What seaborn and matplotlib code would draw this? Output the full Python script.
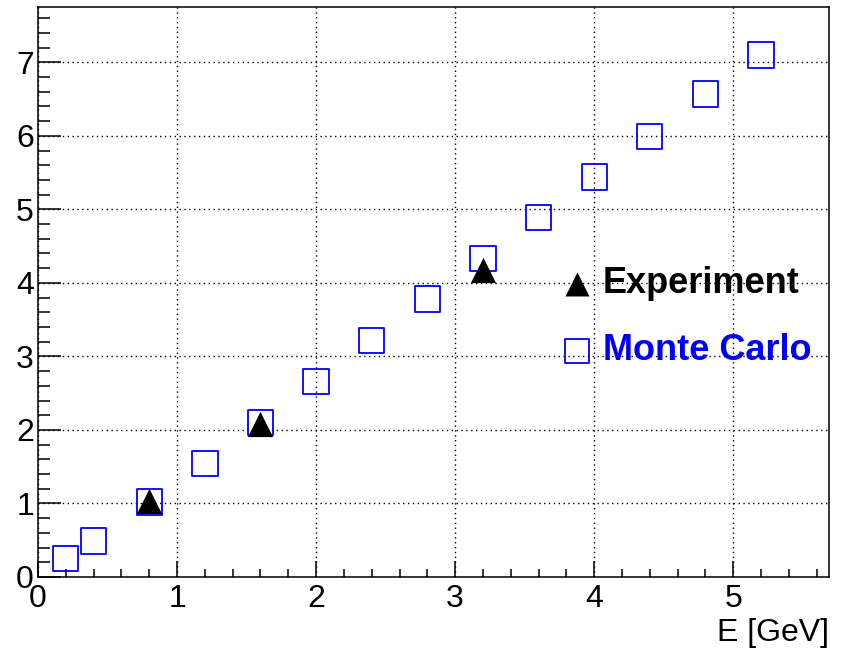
import matplotlib

matplotlib.use("Agg")
import matplotlib.pyplot as plt
import pandas as pd
import seaborn as sns
from matplotlib.ticker import MultipleLocator

# Monte Carlo points
mc_energy = [0.2, 0.4, 0.8, 1.2, 1.6, 2.0, 2.4, 2.8, 3.2, 3.6, 4.0, 4.4, 4.8, 5.2]
mc_value = [0.25, 0.49, 1.02, 1.54, 2.10, 2.66, 3.22, 3.78, 4.33, 4.89, 5.44, 5.99, 6.57, 7.10]

# Experiment points
exp_energy = [0.8, 1.6, 3.2]
exp_value = [1.04, 2.08, 4.18]

mc_df = pd.DataFrame({"E": mc_energy, "y": mc_value})
exp_df = pd.DataFrame({"E": exp_energy, "y": exp_value})

sns.set_style("white")
plt.rcParams["font.family"] = ["Liberation Sans", "DejaVu Sans"]
plt.rcParams["text.color"] = "black"
plt.rcParams["axes.labelcolor"] = "black"

fig = plt.figure(figsize=(8.46, 6.51), dpi=100)
ax = fig.add_axes([0.045, 0.1137, 0.935, 0.8753])

sns.scatterplot(
    data=mc_df, x="E", y="y", ax=ax, marker="s", s=330,
    facecolor="none", edgecolor="#0000ff", linewidth=1.3, label="Monte Carlo", zorder=3,
)
sns.scatterplot(
    data=exp_df, x="E", y="y", ax=ax, marker="^", s=330,
    color="black", edgecolor="black", linewidth=0, label="Experiment", zorder=4,
)

ax.set_xlim(0, 5.69)
ax.set_ylim(0, 7.75)
ax.xaxis.set_major_locator(MultipleLocator(1))
ax.xaxis.set_minor_locator(MultipleLocator(0.2))
ax.yaxis.set_major_locator(MultipleLocator(1))
ax.yaxis.set_minor_locator(MultipleLocator(0.2))

ax.grid(True, which="major", color="black", linestyle=(0, (1, 2.5)), linewidth=1.0)
ax.tick_params(axis="both", which="both", direction="in", colors="black",
               labelsize=23, width=1.1, bottom=True, left=True, top=False, right=False)
ax.tick_params(axis="x", which="major", length=11.5, pad=5)
ax.tick_params(axis="x", which="minor", length=6)
ax.tick_params(axis="y", which="major", length=16.5, pad=3)
ax.tick_params(axis="y", which="minor", length=8.5)

for spine in ax.spines.values():
    spine.set_color("black")
    spine.set_linewidth(1.1)
    spine.set_visible(True)

ax.set_xlabel("E [GeV]", fontsize=23, loc="right", labelpad=3)
ax.set_ylabel("")

handles, labels = ax.get_legend_handles_labels()
order = [labels.index("Experiment"), labels.index("Monte Carlo")]
leg = ax.legend(
    [handles[i] for i in order], [labels[i] for i in order],
    loc="center left", bbox_to_anchor=(0.636, 0.456), frameon=False,
    prop={"size": 26, "weight": "bold"}, handletextpad=0.2, labelspacing=0.88,
    markerscale=0.95, handlelength=1.0, borderpad=0,
)
for text, col in zip(leg.get_texts(), ["black", "#0000ff"]):
    text.set_color(col)

fig.savefig("out.png", dpi=100)
